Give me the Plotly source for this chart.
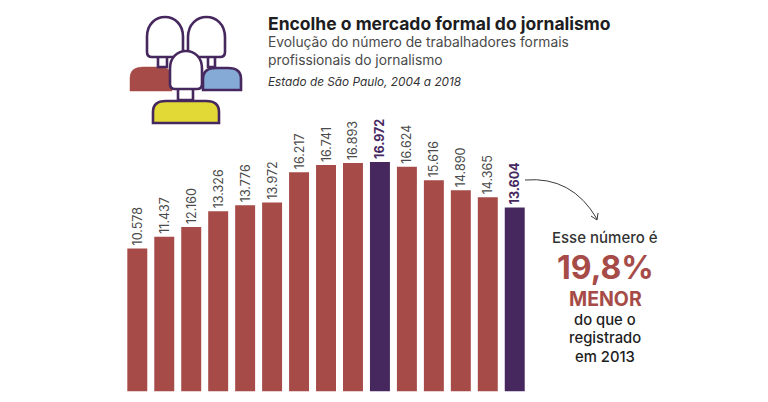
import plotly.graph_objects as go

# the page body puts the figure 8px in from the window corner
OFFSET = 8
W, H = 752, 386

# Trabalhadores formais, jornalismo, SP
anos = list(range(2004, 2019))
valores = [10578, 11437, 12160, 13326, 13776, 13972, 16217, 16741, 16893, 16972,
           16624, 15616, 14890, 14365, 13604]
destaques = [2013, 2018]

RED = "#a64b47"
PURPLE = "#46285f"
BLUE = "#85aad6"
YELLOW = "#e3d936"
GREY = "#4a4a4a"
DARK = "#1d1d22"
FONT = "Inter"


def fmt(v):
    return f"{v:,}".replace(",", ".")


def px(x):
    return (x - OFFSET) / W


def py(y):
    return 1 - (y - OFFSET) / H


def path(d):
    # d is a list of tuples (cmd, x, y, ...), in screen pixels
    out = []
    for item in d:
        nums = item[1:]
        pts = [f"{px(nums[i])},{py(nums[i + 1])}" for i in range(0, len(nums), 2)]
        out.append(item[0] + " ".join(pts))
    return " ".join(out)


def head(x0, x1, y0, y1):
    # dome on top, rounded corners below
    w = x1 - x0
    mid = y0 + w * 0.55
    ctrl = y0 - (mid - y0) / 3
    return path([
        ("M", x0, mid),
        ("C", x0, ctrl, x1, ctrl, x1, mid),
        ("L", x1, y1 - 5),
        ("Q", x1, y1, x1 - 5, y1),
        ("L", x0 + 5, y1),
        ("Q", x0, y1, x0, y1 - 5),
        ("Z",),
    ])


def body(x0, x1, y0, y1):
    return path([
        ("M", x0, y1),
        ("L", x0, y0 + 11),
        ("Q", x0, y0, x0 + 13, y0),
        ("L", x1 - 13, y0),
        ("Q", x1, y0, x1, y0 + 11),
        ("L", x1, y1),
        ("Z",),
    ])


def neck(x0, x1, y0, y1):
    return path([("M", x0, y0), ("L", x0, y1), ("L", x1, y1), ("L", x1, y0), ("Z",)])


def shape(d, fill="rgba(0,0,0,0)", line=PURPLE, width=2.6):
    return dict(type="path", path=d, xref="paper", yref="paper", fillcolor=fill,
                line=dict(color=line, width=width))


shapes = [
    shape(body(130, 172, 67, 91), fill=RED, line=RED, width=0.5),
    shape(body(203, 241, 68, 90), fill=BLUE, line=PURPLE),
    shape(neck(158, 167, 56, 67), fill="white"),
    shape(neck(208, 215, 56, 67), fill="white"),
    shape(head(147, 183, 17, 57), fill="white"),
    shape(head(188, 225, 17, 57), fill="white"),
    shape(neck(178, 193, 88, 100), fill="white"),
    shape(body(153, 219, 101, 123), fill=YELLOW),
    shape(head(170, 202, 51, 89), fill="white"),
    # seta
    shape(path([("M", 525, 180), ("Q", 572, 176, 597, 219)]), line="#3a3a3a", width=1),
    shape(path([("M", 591, 216), ("L", 597, 220), ("L", 598, 213)]), line="#3a3a3a", width=1),
]


def label(x, y, text, size, color=DARK, anchor="left", weight=400):
    return dict(x=px(x), y=py(y), xref="paper", yref="paper", text=text, showarrow=False,
                xanchor=anchor, yanchor="middle", align=anchor,
                font=dict(family=FONT, size=size, color=color, weight=weight))


annotations = [
    label(266, 23, "<b>Encolhe o mercado formal do jornalismo</b>", 17.5),
    label(266, 42, "Evolução do número de trabalhadores formais", 13.8, GREY),
    label(266, 60, "profissionais do jornalismo", 13.8, GREY),
    label(266, 82, "<i>Estado de São Paulo, 2004 a 2018</i>", 11.8, "#333333"),
    label(605, 237, "Esse número é", 15, "#333333", "center", 500),
    label(605, 267, "<b>19,8%</b>", 32, RED, "center"),
    label(605, 298.5, "<b>MENOR</b>", 19.5, RED, "center"),
    label(605, 319.5, "do que o", 14.8, DARK, "center", 500),
    label(605, 338, "registrado", 14.8, DARK, "center", 500),
    label(605, 356.5, "em 2013", 14.8, DARK, "center", 500),
]

cores = [PURPLE if a in destaques else RED for a in anos]
textos = [f"<b>{fmt(v)}</b>" if a in destaques else fmt(v) for a, v in zip(anos, valores)]
cores_texto = [PURPLE if a in destaques else GREY for a in anos]

fig = go.Figure(go.Bar(
    x=anos,
    y=valores,
    width=0.74,
    marker=dict(color=cores, line=dict(width=0)),
    text=textos,
    textposition="outside",
    textangle=-90,
    constraintext="none",
    cliponaxis=False,
    textfont=dict(family=FONT, size=12.5, color=cores_texto),
    hoverinfo="x+y",
))

step = 26.96
first_center = 137.3 - OFFSET
base_y = 391.3 - OFFSET
scale = 229.3 / 16972

fig.update_layout(
    width=W,
    height=H,
    margin=dict(l=0, r=0, t=0, b=0),
    paper_bgcolor="white",
    plot_bgcolor="white",
    showlegend=False,
    shapes=shapes,
    annotations=annotations,
    xaxis=dict(visible=False, range=[2004 - first_center / step, 2004 + (W - first_center) / step]),
    yaxis=dict(visible=False, range=[-(H - base_y) / scale, base_y / scale]),
)

fig.write_html("out.html", config={"displayModeBar": False})
